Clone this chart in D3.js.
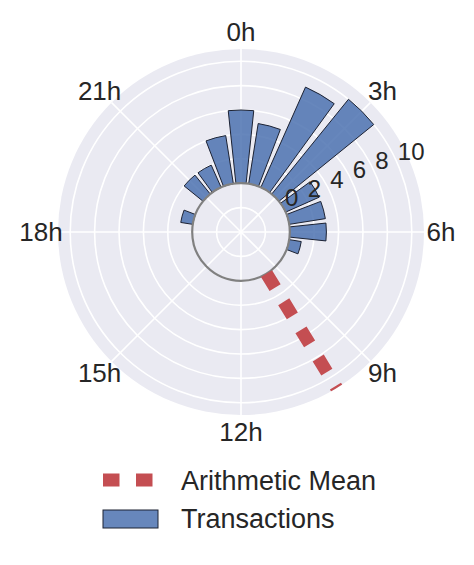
<!DOCTYPE html>
<html lang="en">
<head>
    <meta charset="UTF-8">
    <title>Transactions by Hour</title>
    <script src="https://cdnjs.cloudflare.com/ajax/libs/d3/7.8.5/d3.min.js"></script>
    <style>
        body {
            margin: 0;
            background: #ffffff;
            font-family: "Liberation Sans", Arial, sans-serif;
        }
        .grid {
            fill: none;
            stroke: #ffffff;
            stroke-width: 1.6;
        }
        .bar {
            fill: #4C72B0;
            fill-opacity: 0.85;
            stroke: #1c2233;
            stroke-width: 1;
        }
        .tick-label {
            fill: #262626;
        }
    </style>
</head>
<body>
    <div id="chart"></div>

    <script>
        // Data
        const hours = d3.range(24);
        const transactions = [6, 5, 9, 10, 3, 3, 3, 1, 0, 0, 0, 0, 0, 0, 0, 0, 0, 0, 0, 1, 0, 2, 2, 4];
        const hourTicks = [0, 3, 6, 9, 12, 15, 18, 21];
        const hourTickLabels = ["0h", "3h", "6h", "9h", "12h", "15h", "18h", "21h"];
        const radialTicks = [0, 2, 4, 6, 8, 10];
        const meanHour = 9.9;
        const legendLabels = ["Arithmetic Mean", "Transactions"];

        const width = 474, height = 565;
        const cx = 241, cy = 232;
        const outer = 183;

        const svg = d3.select("#chart")
            .append("svg")
            .attr("width", width)
            .attr("height", height);

        // radial scale has a negative origin so r=0 sits on the inner ring
        const r = d3.scaleLinear().domain([-4, 11]).range([0, outer]);
        const angle = d3.scaleLinear().domain([0, 24]).range([0, 2 * Math.PI]);

        const pt = (h, v) => {
            const a = angle(h);
            return [Math.sin(a) * r(v), -Math.cos(a) * r(v)];
        };

        const g = svg.append("g").attr("transform", `translate(${cx},${cy})`);

        svg.append("defs").append("clipPath")
            .attr("id", "disk")
            .append("circle")
            .attr("cx", cx).attr("cy", cy).attr("r", outer);

        // background disk
        g.append("circle").attr("r", outer).attr("fill", "#EAEAF2");

        // grid circles
        g.selectAll(".ring")
            .data([-2].concat(radialTicks))
            .join("circle")
            .attr("class", "grid")
            .attr("r", d => r(d));

        // angular grid lines
        g.selectAll(".spoke")
            .data(hourTicks)
            .join("line")
            .attr("class", "grid")
            .attr("x1", 0).attr("y1", 0)
            .attr("x2", d => pt(d, 11)[0])
            .attr("y2", d => pt(d, 11)[1]);

        // bars
        const arc = d3.arc()
            .innerRadius(r(0))
            .outerRadius(d => r(d.v))
            .startAngle(d => angle(d.h - 0.4))
            .endAngle(d => angle(d.h + 0.4));

        g.selectAll(".bar")
            .data(hours.map((h, i) => ({h: h, v: transactions[i]})).filter(d => d.v > 0))
            .join("path")
            .attr("class", "bar")
            .attr("d", arc);

        // inner ring
        g.append("circle")
            .attr("r", r(0))
            .attr("fill", "none")
            .attr("stroke", "#808080")
            .attr("stroke-width", 2.2);

        // arithmetic mean line
        svg.append("g")
            .attr("clip-path", "url(#disk)")
            .append("line")
            .attr("transform", `translate(${cx},${cy})`)
            .attr("x1", pt(meanHour, 0)[0]).attr("y1", pt(meanHour, 0)[1])
            .attr("x2", pt(meanHour, 11.5)[0]).attr("y2", pt(meanHour, 11.5)[1])
            .attr("stroke", "#C44E52")
            .attr("stroke-width", 13)
            .attr("stroke-dasharray", "16.5,16.5");

        // hour labels
        g.selectAll(".hour-label")
            .data(hourTicks)
            .join("text")
            .attr("class", "tick-label")
            .attr("x", d => Math.sin(angle(d)) * 200)
            .attr("y", d => -Math.cos(angle(d)) * 200)
            .attr("text-anchor", "middle")
            .attr("dominant-baseline", "central")
            .style("font-size", "26px")
            .text((d, i) => hourTickLabels[i]);

        // radial labels along 67.5 degrees
        g.selectAll(".r-label")
            .data(radialTicks)
            .join("text")
            .attr("class", "tick-label")
            .attr("x", d => pt(4.5, d)[0] - 1)
            .attr("y", d => pt(4.5, d)[1] - 7)
            .style("font-size", "24px")
            .text(d => d);

        // legend
        const legend = svg.append("g");
        legend.append("line")
            .attr("x1", 103).attr("x2", 158)
            .attr("y1", 480).attr("y2", 480)
            .attr("stroke", "#C44E52")
            .attr("stroke-width", 13)
            .attr("stroke-dasharray", "16.5,16.5");
        legend.append("rect")
            .attr("class", "bar")
            .attr("x", 103).attr("y", 510)
            .attr("width", 55).attr("height", 18);
        legend.selectAll(".legend-text")
            .data(legendLabels)
            .join("text")
            .attr("class", "tick-label")
            .attr("x", 181)
            .attr("y", (d, i) => 490 + i * 38)
            .style("font-size", "27px")
            .text(d => d);
    </script>
</body>
</html>
